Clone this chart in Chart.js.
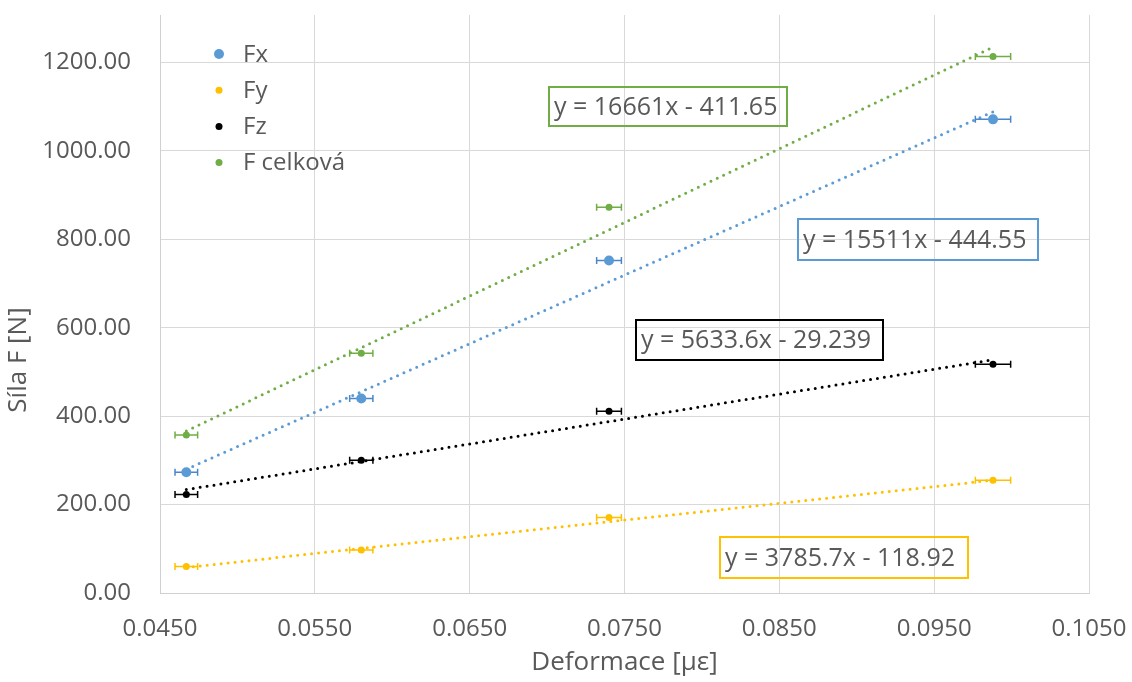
<!DOCTYPE html>
<html>
<head>
<meta charset="utf-8">
<script src="https://cdn.jsdelivr.net/npm/chart.js@4.4.1/dist/chart.umd.min.js"></script>
<style>
  html, body { margin: 0; padding: 0; background: #ffffff; }
  #wrap { width: 1132px; height: 682px; position: relative; }
</style>
</head>
<body>
<div id="wrap"><canvas id="chart"></canvas></div>
<script>
// Measured deformation (x) and force components (y)
const seriesNames = ['Fx', 'Fy', 'Fz', 'F celková'];
const deformation = [0.0467, 0.0580, 0.0740, 0.0988];
const fx = [273, 440, 752, 1071];
const fy = [60, 97, 171, 255];
const fz = [223, 300, 411, 517];
const fTotal = [357, 542, 872, 1213];
// Horizontal uncertainty of the deformation readings
const deformationError = [0.00073, 0.00075, 0.00080, 0.00114];
// Linear trend lines: y = slope * x + intercept
const trendSlopes = [15511, 3785.7, 5633.6, 16661];
const trendIntercepts = [-444.55, -118.92, -29.239, -411.65];
// Axis ticks
const xTickValues = [0.045, 0.055, 0.065, 0.075, 0.085, 0.095, 0.105];
const yTickValues = [0, 200, 400, 600, 800, 1000, 1200];

const seriesValues = [fx, fy, fz, fTotal];
const seriesColors = ['#5b9bd5', '#ffc000', '#000000', '#70ad47'];
const errorColors = ['#4a86c8', '#ffc000', '#000000', '#70ad47'];
const markerRadius = [5, 3.5, 3.5, 3.5];
const FONT = '"Open Sans", "Liberation Sans", sans-serif';
const TEXT = '#595959';

// Boxes holding the trend equations (pixel layout)
const equationBoxes = [
  { x: 798, y: 219, w: 240, h: 41 },
  { x: 720, y: 537, w: 248, h: 41 },
  { x: 636, y: 320, w: 247, h: 40 },
  { x: 549, y: 87,  w: 238, h: 39 }
];

const xMin = Math.min(...deformation);
const xMax = Math.max(...deformation);

const pointSets = seriesValues.map((vals, i) => ({
  type: 'scatter',
  label: seriesNames[i],
  data: deformation.map((d, j) => ({ x: d, y: vals[j] })),
  backgroundColor: seriesColors[i],
  borderColor: seriesColors[i],
  pointRadius: markerRadius[i],
  pointHoverRadius: markerRadius[i],
  pointBorderWidth: 0,
  order: 0,
  isPoints: true,
  seriesIndex: i
}));

const trendSets = trendSlopes.map((m, i) => ({
  type: 'scatter',
  label: seriesNames[i] + ' trend',
  data: [xMin, xMax].map(x => ({ x: x, y: m * x + trendIntercepts[i] })),
  showLine: true,
  borderColor: seriesColors[i],
  backgroundColor: seriesColors[i],
  borderWidth: 3,
  borderDash: [0, 7],
  borderCapStyle: 'round',
  pointRadius: 0,
  pointHoverRadius: 0,
  order: 1
}));

const errorBarPlugin = {
  id: 'errorBars',
  beforeDatasetDraw(chart, args) {
    const ds = chart.data.datasets[args.index];
    if (!ds.isPoints) return;
    const xs = chart.scales.x, ys = chart.scales.y;
    const ctx = chart.ctx;
    ctx.save();
    ctx.strokeStyle = errorColors[ds.seriesIndex];
    ctx.lineWidth = 1.5;
    ds.data.forEach((p, j) => {
      const e = deformationError[j];
      const x1 = xs.getPixelForValue(p.x - e);
      const x2 = xs.getPixelForValue(p.x + e);
      const y = ys.getPixelForValue(p.y);
      ctx.beginPath();
      ctx.moveTo(x1, y); ctx.lineTo(x2, y);
      ctx.moveTo(x1, y - 3.5); ctx.lineTo(x1, y + 3.5);
      ctx.moveTo(x2, y - 3.5); ctx.lineTo(x2, y + 3.5);
      ctx.stroke();
    });
    ctx.restore();
  }
};

const decorPlugin = {
  id: 'decor',
  afterDraw(chart) {
    const ctx = chart.ctx;
    const area = chart.chartArea;
    ctx.save();
    // Legend inside the plot area
    ctx.font = '24px ' + FONT;
    ctx.textBaseline = 'middle';
    ctx.textAlign = 'left';
    seriesNames.forEach((name, i) => {
      const cy = 54 + i * 36.2;
      ctx.fillStyle = seriesColors[i];
      ctx.beginPath();
      ctx.arc(219, cy, markerRadius[i], 0, Math.PI * 2);
      ctx.fill();
      ctx.fillStyle = TEXT;
      ctx.fillText(name, 243, cy + 1);
    });
    // Trend equations
    trendSlopes.forEach((m, i) => {
      const b = equationBoxes[i];
      const sign = trendIntercepts[i] < 0 ? ' - ' : ' + ';
      const text = 'y = ' + m + 'x' + sign + Math.abs(trendIntercepts[i]);
      ctx.strokeStyle = seriesColors[i];
      ctx.lineWidth = 2;
      ctx.strokeRect(b.x, b.y, b.w, b.h);
      ctx.fillStyle = TEXT;
      ctx.font = '25px ' + FONT;
      ctx.fillText(text, b.x + 5, b.y + b.h / 2 + 1);
    });
    // Axis titles
    ctx.fillStyle = TEXT;
    ctx.font = '26px ' + FONT;
    ctx.textAlign = 'center';
    ctx.fillText('Deformace [με]', (area.left + area.right) / 2, 663);
    ctx.translate(19, 360);
    ctx.rotate(-Math.PI / 2);
    ctx.fillText('Síla F [N]', 0, 0);
    ctx.restore();
  }
};

new Chart(document.getElementById('chart'), {
  type: 'scatter',
  data: { datasets: [...pointSets, ...trendSets] },
  plugins: [errorBarPlugin, decorPlugin],
  options: {
    responsive: true,
    maintainAspectRatio: false,
    animation: false,
    layout: { padding: { top: 15, right: 43, left: 0, bottom: 0 } },
    plugins: { legend: { display: false }, tooltip: { enabled: false } },
    scales: {
      x: {
        type: 'linear',
        min: 0.045,
        max: 0.105,
        afterBuildTicks: axis => { axis.ticks = xTickValues.map(v => ({ value: v })); },
        afterFit: axis => {
          axis.height = 89;
          axis.paddingLeft = 0; axis.paddingRight = 0;
          axis.paddingTop = 0; axis.paddingBottom = 0;
        },
        grid: { color: '#d9d9d9', lineWidth: 1, drawTicks: false },
        border: { color: '#d0d0d0', width: 1 },
        ticks: {
          padding: 22,
          color: TEXT,
          font: { family: FONT, size: 24 },
          maxRotation: 0,
          callback: v => Number(v).toFixed(4)
        }
      },
      y: {
        type: 'linear',
        min: 0,
        max: 1307,
        afterBuildTicks: axis => { axis.ticks = yTickValues.map(v => ({ value: v })); },
        afterFit: axis => {
          axis.width = 160;
          axis.paddingLeft = 0; axis.paddingRight = 0;
          axis.paddingTop = 0; axis.paddingBottom = 0;
        },
        grid: { color: '#d9d9d9', lineWidth: 1, drawTicks: false },
        border: { color: '#d0d0d0', width: 1 },
        ticks: {
          padding: 29,
          color: TEXT,
          font: { family: FONT, size: 24 },
          callback: v => Number(v).toFixed(2)
        }
      }
    }
  }
});
</script>
</body>
</html>
